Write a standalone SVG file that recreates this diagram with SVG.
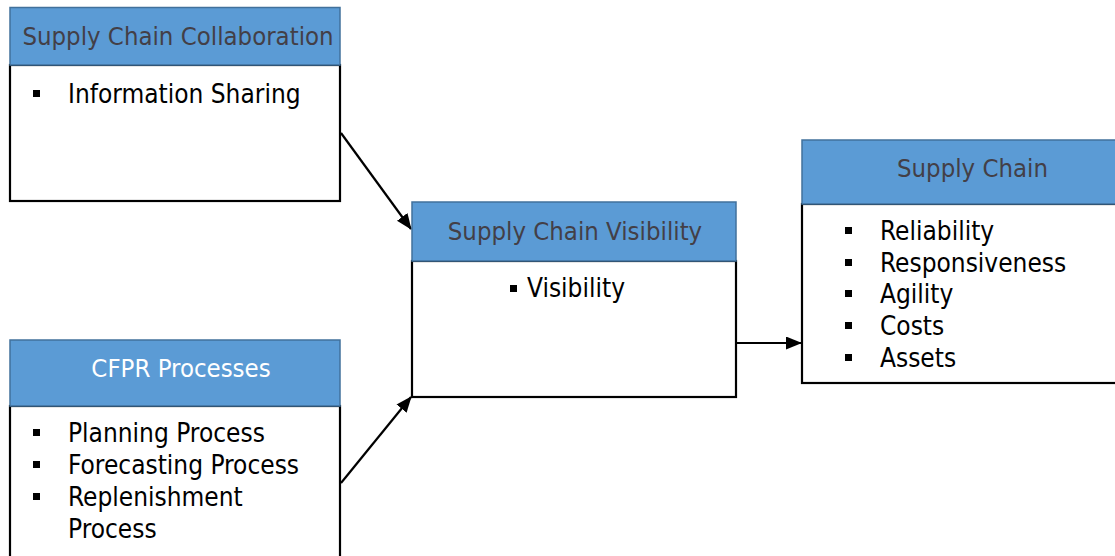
<svg xmlns="http://www.w3.org/2000/svg" width="1115" height="556" viewBox="0 0 1115 556">
<defs>
<style>
.hdr{fill:#5B9BD5;stroke:#41719C;stroke-width:1.5}
.body{fill:#fff;stroke:#000;stroke-width:2.2}
.t{font-family:"DejaVu Sans Condensed","DejaVu Sans",sans-serif;font-size:25.5px;font-stretch:condensed}
.ttl{fill:#433F47;text-anchor:middle}
.ttlw{fill:#fff;text-anchor:middle}
.it{fill:#000;font-size:26px}
.bul{fill:#000}
.conn{stroke:#000;stroke-width:2.2;fill:none}
</style>
<marker id="arr" viewBox="0 0 16 13" refX="15" refY="6.5" markerWidth="16" markerHeight="13" markerUnits="userSpaceOnUse" orient="auto">
<path d="M0,0 L16,6.5 L0,13 z" fill="#000"/>
</marker>
</defs>
<rect width="1115" height="556" fill="#fff"/>
<g id="connectors">
<line class="conn" x1="341" y1="133" x2="411" y2="229" marker-end="url(#arr)"/>
<line class="conn" x1="341" y1="483" x2="411" y2="397" marker-end="url(#arr)"/>
<line class="conn" x1="736" y1="343" x2="801" y2="343" marker-end="url(#arr)"/>
</g>
<g id="collab">
<rect class="body" x="10" y="65" width="330" height="136"/>
<rect class="hdr" x="10" y="7.5" width="330" height="57.5"/>
<text class="t ttl" x="178" y="45">Supply Chain Collaboration</text>
<rect class="bul" x="33" y="90" width="7" height="7"/>
<text class="t it" x="68" y="103">Information Sharing</text>
</g>
<g id="cfpr">
<rect class="body" x="10" y="406" width="330" height="170"/>
<rect class="hdr" x="10" y="340" width="330" height="66"/>
<text class="t ttlw" x="181" y="377">CFPR Processes</text>
<rect class="bul" x="33" y="429" width="7" height="7"/>
<text class="t it" x="68" y="442">Planning Process</text>
<rect class="bul" x="33" y="461" width="7" height="7"/>
<text class="t it" x="68" y="474">Forecasting Process</text>
<rect class="bul" x="33" y="493" width="7" height="7"/>
<text class="t it" x="68" y="506">Replenishment</text>
<text class="t it" x="68" y="538">Process</text>
</g>
<g id="visibility">
<rect class="body" x="412" y="261" width="324" height="136"/>
<rect class="hdr" x="412" y="202" width="324" height="59"/>
<text class="t ttl" x="575" y="240">Supply Chain Visibility</text>
<rect class="bul" x="510" y="285" width="7" height="7"/>
<text class="t it" x="527" y="297">Visibility</text>
</g>
<g id="supplychain">
<rect class="body" x="802" y="204" width="345" height="179"/>
<rect class="hdr" x="802" y="140" width="345" height="64"/>
<text class="t ttl" x="972.5" y="177">Supply Chain</text>
<rect class="bul" x="845" y="227" width="7" height="7"/>
<text class="t it" x="880" y="240">Reliability</text>
<rect class="bul" x="845" y="259" width="7" height="7"/>
<text class="t it" x="880" y="272">Responsiveness</text>
<rect class="bul" x="845" y="290" width="7" height="7"/>
<text class="t it" x="880" y="303">Agility</text>
<rect class="bul" x="845" y="322" width="7" height="7"/>
<text class="t it" x="880" y="335">Costs</text>
<rect class="bul" x="845" y="354" width="7" height="7"/>
<text class="t it" x="880" y="367">Assets</text>
</g>
</svg>
